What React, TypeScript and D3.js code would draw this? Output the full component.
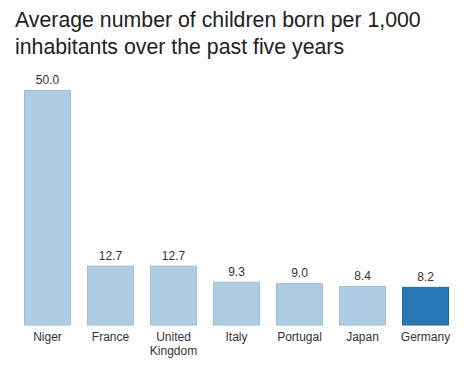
import React from "react";
import * as d3 from "d3";

const categories = ["Niger", "France", "United Kingdom", "Italy", "Portugal", "Japan", "Germany"];
const values = [50.0, 12.7, 12.7, 9.3, 9.0, 8.4, 8.2];
const highlighted = ["Germany"];
const titleLines = ["Average number of children born per 1,000", "inhabitants over the past five years"];
const labelLines: Record<string, string[]> = { "United Kingdom": ["United", "Kingdom"] };

export default function App() {
  const W = 474, H = 378;
  const x = d3.scaleBand<string>().domain(categories).range([16, 457]).paddingInner(0.254).paddingOuter(0.127);
  const y = d3.scaleLinear().domain([0, 50]).range([325.5, 90]);
  const font = "'Liberation Sans', Arial, Helvetica, sans-serif";
  return (
    <svg width={W} height={H} style={{ position: "absolute", left: 0, top: 0, background: "#fff" }}>
      {titleLines.map((t, i) => (
        <text key={i} x={15} y={27 + i * 27} fontFamily={font} fontSize={21.3} fill="#222">{t}</text>
      ))}
      {categories.map((c, i) => {
        const hi = highlighted.includes(c);
        const x0 = x(c)!;
        const bw = x.bandwidth();
        const v = values[i];
        const lines = labelLines[c] || [c];
        return (
          <g key={c}>
            <rect x={x0 + 0.5} y={y(v) + 0.5} width={bw - 1} height={y(0) - y(v) - 1}
              fill={hi ? "#2878b4" : "#aecde2"} stroke={hi ? "#1f68a3" : "#9dbfd7"} strokeWidth={1} />
            <text x={x0 + bw / 2} y={y(v) - 6} textAnchor="middle" fontFamily={font} fontSize={12} fill="#333">{v.toFixed(1)}</text>
            {lines.map((l, j) => (
              <text key={j} x={x0 + bw / 2} y={341 + j * 14} textAnchor="middle" fontFamily={font} fontSize={12} fill="#333">{l}</text>
            ))}
          </g>
        );
      })}
    </svg>
  );
}
